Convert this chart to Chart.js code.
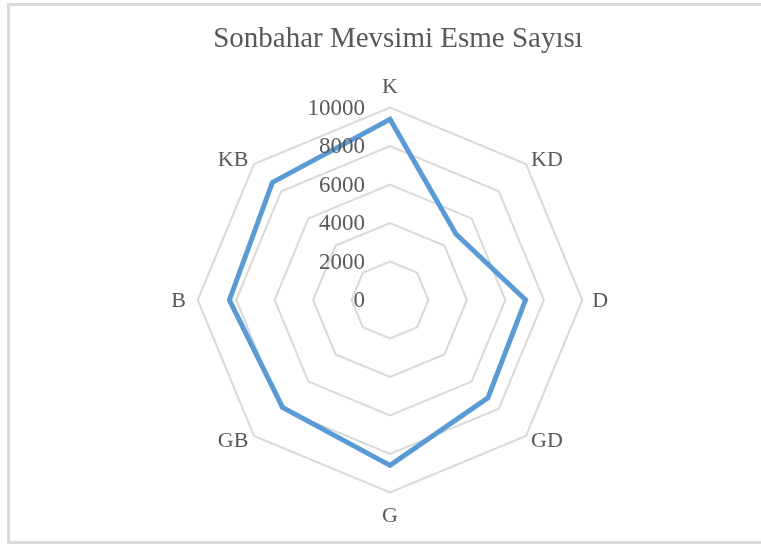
<!DOCTYPE html>
<html>
<head>
<meta charset="utf-8">
<script src="https://cdn.jsdelivr.net/npm/chart.js@4"></script>
<style>
  html, body { margin: 0; padding: 0; background: #fff; }
  #stage { position: relative; width: 761px; height: 545px; overflow: hidden; }
  #frame { position: absolute; left: 7px; top: 3px; width: 800px; height: 541px; box-sizing: border-box; border: 3px solid #d9d9d9; border-right: none; }
  #wrap { position: absolute; left: 0; top: 0; width: 761px; height: 545px; }
</style>
</head>
<body>
<div id="stage">
  <div id="frame"></div>
  <div id="wrap"><canvas id="radarChart" width="761" height="545"></canvas></div>
</div>
<script>
// yönler ve değerler
var directions = ['K', 'KD', 'D', 'GD', 'G', 'GB', 'B', 'KB'];
var esmeCounts = [9400, 4850, 7050, 7200, 8600, 7900, 8350, 8650];
var tickValues = [0, 2000, 4000, 6000, 8000, 10000];
var chartTitle = 'Sonbahar Mevsimi Esme Sayısı';

var textColor = '#595959';
var serif = '"Liberation Serif", "Times New Roman", serif';

// başlık, tick yazıları (eksenin solunda) ve yön etiketleri (Excel yerleşimi)
var labelsPlugin = {
    id: 'excelLabels',
    afterDraw: function(chart) {
        var scale = chart.scales.r;
        var ctx = chart.ctx;
        var tb = chart.titleBlock;
        ctx.save();
        ctx.fillStyle = textColor;

        ctx.font = '29px ' + serif;
        ctx.textAlign = 'center';
        ctx.textBaseline = 'middle';
        ctx.fillText(chartTitle, scale.xCenter + 8, (tb.top + tb.bottom) / 2 + 2);

        ctx.font = '23px ' + serif;
        ctx.textAlign = 'right';
        tickValues.forEach(function(v) {
            var y = scale.yCenter - scale.getDistanceFromCenterForValue(v);
            ctx.fillText(String(v), scale.xCenter - 25, y + 1);
        });

        ctx.font = '22px ' + serif;
        ctx.textAlign = 'center';
        directions.forEach(function(lbl, i) {
            var p = scale.getPointPosition(i, scale.drawingArea);
            var dx = p.x - scale.xCenter;
            var dy = p.y - scale.yCenter;
            var ox = 0, oy = 0;
            if (Math.abs(dx) < 1) {
                oy = dy < 0 ? -21 : 23;
            } else if (Math.abs(dy) < 1) {
                ox = dx < 0 ? -19 : 18;
            } else {
                ox = dx < 0 ? -21 : 21;
                oy = dy < 0 ? -5 : 4;
            }
            ctx.fillText(lbl, p.x + ox, p.y + oy + 1);
        });
        ctx.restore();
    }
};

document.addEventListener('DOMContentLoaded', function() {
    var ctx = document.getElementById('radarChart').getContext('2d');
    new Chart(ctx, {
        type: 'radar',
        data: {
            labels: directions,
            datasets: [{
                label: chartTitle,
                data: esmeCounts,
                borderColor: '#5b9bd5',
                backgroundColor: 'rgba(0,0,0,0)',
                borderWidth: 5,
                pointRadius: 0,
                pointHoverRadius: 0,
                fill: false,
                tension: 0
            }]
        },
        options: {
            responsive: false,
            animation: false,
            layout: { padding: { left: 100, right: 81, top: 0, bottom: 18 } },
            plugins: {
                legend: { display: false },
                tooltip: { enabled: false },
                title: {
                    display: true,
                    text: chartTitle,
                    color: 'rgba(0,0,0,0)', // yer ayırmak için, çizim eklentide
                    font: { family: serif, size: 29, weight: 'normal' },
                    padding: { top: 24, bottom: 16 }
                }
            },
            scales: {
                r: {
                    min: 0,
                    max: 10000,
                    ticks: { stepSize: 2000, display: false },
                    angleLines: { display: false },
                    grid: { color: '#d9d9d9', lineWidth: 2 },
                    pointLabels: {
                        color: 'rgba(0,0,0,0)',
                        padding: 6.5,
                        font: { family: serif, size: 22 }
                    }
                }
            }
        },
        plugins: [labelsPlugin]
    });
});
</script>
</body>
</html>
